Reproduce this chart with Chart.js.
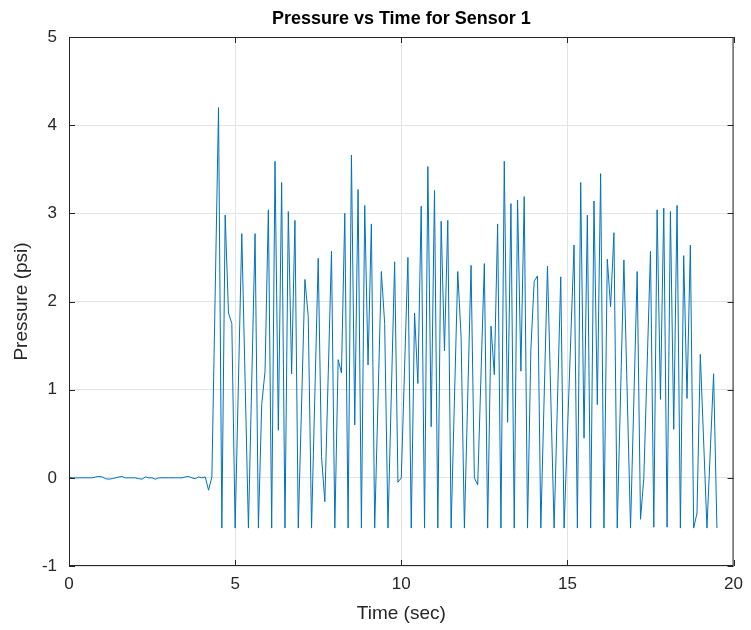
<!DOCTYPE html>
<html>
<head>
<meta charset="utf-8">
<script src="https://cdn.jsdelivr.net/npm/chart.js@4.4.1/dist/chart.umd.min.js"></script>
<style>
  html, body { margin: 0; padding: 0; background: #fff; }
  #wrap { width: 751px; height: 630px; }
</style>
</head>
<body>
<div id="wrap"><canvas id="pressureChart" width="751" height="630"></canvas></div>
<script>
// sample times (sec) and pressure readings (psi)
const timeSec = [
  0.0, 0.1, 0.2, 0.3, 0.4, 0.5, 0.6, 0.7, 0.8, 0.9,
  1.0, 1.1, 1.2, 1.3, 1.4, 1.5, 1.6, 1.7, 1.8, 1.9,
  2.0, 2.1, 2.2, 2.3, 2.4, 2.5, 2.6, 2.7, 2.8, 2.9,
  3.0, 3.1, 3.2, 3.3, 3.4, 3.5, 3.6, 3.7, 3.8, 3.9,
  4.0, 4.1, 4.2, 4.3, 4.5, 4.6, 4.7, 4.8, 4.9, 5.0,
  5.2, 5.4, 5.6, 5.7, 5.8, 5.9, 6.0, 6.1, 6.2, 6.3,
  6.4, 6.5, 6.6, 6.7, 6.8, 6.9, 7.1, 7.2, 7.3, 7.5,
  7.6, 7.7, 7.9, 8.0, 8.1, 8.2, 8.3, 8.4, 8.5, 8.6,
  8.7, 8.8, 8.9, 9.0, 9.1, 9.2, 9.4, 9.5, 9.6, 9.8,
  9.9, 10.0, 10.2, 10.3, 10.4, 10.5, 10.6, 10.7, 10.8, 10.9,
  11.0, 11.1, 11.2, 11.3, 11.4, 11.5, 11.7, 11.8, 11.9, 12.1,
  12.2, 12.3, 12.5, 12.6, 12.7, 12.8, 12.9, 13.0, 13.1, 13.2,
  13.3, 13.4, 13.5, 13.6, 13.7, 13.8, 13.9, 14.0, 14.1, 14.2,
  14.4, 14.6, 14.8, 14.9, 15.2, 15.3, 15.4, 15.5, 15.6, 15.7,
  15.8, 15.9, 16.0, 16.1, 16.2, 16.3, 16.4, 16.5, 16.7, 16.9,
  17.1, 17.2, 17.3, 17.5, 17.6, 17.7, 17.8, 17.9, 18.0, 18.1,
  18.2, 18.3, 18.4, 18.5, 18.6, 18.7, 18.8, 18.9, 19.0, 19.2,
  19.4, 19.5
];
const pressurePsi = [
  0.01, 0.0, 0.0, 0.0, 0.0, 0.0, 0.0, 0.0, 0.01, 0.015,
  0.01, -0.01, -0.015, -0.01, 0.0, 0.01, 0.015, 0.0, 0.0, 0.0,
  0.0, -0.01, -0.015, 0.01, 0.0, 0.0, -0.015, 0.0, 0.0, 0.0,
  0.0, 0.0, 0.0, 0.0, 0.0, 0.01, 0.015, 0.0, -0.01, 0.01,
  0.0, 0.01, -0.14, 0.01, 4.20, -0.57, 2.98, 1.87, 1.75, -0.57,
  2.77, -0.57, 2.77, -0.57, 0.83, 1.21, 3.04, -0.57, 3.59, 0.54,
  3.35, -0.57, 3.02, 1.18, 2.92, -0.57, 2.25, 1.83, -0.57, 2.49,
  0.24, -0.27, 2.57, -0.57, 1.34, 1.19, 3.00, -0.57, 3.66, 0.60,
  3.27, -0.57, 3.09, 1.28, 2.88, -0.57, 2.34, 1.75, -0.57, 2.45,
  -0.05, 0.0, 2.50, -0.57, 1.87, 1.07, 3.08, -0.57, 3.53, 0.58,
  3.26, -0.57, 2.91, 1.44, 2.92, -0.57, 2.34, 1.60, -0.57, 2.41,
  0.0, -0.08, 2.43, -0.57, 1.72, 1.17, 2.88, -0.57, 3.59, 0.63,
  3.11, -0.57, 3.15, 1.21, 3.19, -0.57, 1.45, 2.23, 2.29, -0.57,
  2.40, -0.57, 2.28, -0.57, 2.64, -0.57, 3.35, 0.45, 2.98, -0.57,
  3.14, 0.83, 3.45, -0.57, 2.48, 1.94, 2.78, -0.57, 2.47, -0.57,
  2.34, -0.47, 0.0, 2.57, -0.56, 3.04, 0.89, 3.06, -0.56, 3.02,
  0.55, 3.09, -0.57, 2.52, 0.90, 2.64, -0.57, -0.40, 1.40, -0.57,
  1.18, -0.57
];
const xTicks = [0, 5, 10, 15, 20];
const yTicks = [-1, 0, 1, 2, 3, 4, 5];

const fontFamily = '"Liberation Sans", Arial, Helvetica, sans-serif';
const axisColor = '#262626';

// box outline plus MATLAB style inward ticks on all four sides
const boxPlugin = {
    id: 'matlabBox',
    afterDraw(chart) {
        const ctx = chart.ctx;
        const a = chart.chartArea;
        const xs = chart.scales.x, ys = chart.scales.y;
        ctx.save();
        ctx.strokeStyle = axisColor;
        ctx.lineWidth = 1;
        ctx.strokeRect(a.left + 0.5, a.top + 0.5, a.right - a.left - 1, a.bottom - a.top - 1);
        ctx.beginPath();
        xTicks.forEach(function (v) {
            const px = Math.round(xs.getPixelForValue(v)) + 0.5;
            ctx.moveTo(px, a.bottom); ctx.lineTo(px, a.bottom - 6);
            ctx.moveTo(px, a.top); ctx.lineTo(px, a.top + 6);
        });
        yTicks.forEach(function (v) {
            const py = Math.round(ys.getPixelForValue(v)) + 0.5;
            ctx.moveTo(a.left, py); ctx.lineTo(a.left + 6, py);
            ctx.moveTo(a.right, py); ctx.lineTo(a.right - 6, py);
        });
        ctx.stroke();
        ctx.restore();
    }
};

const points = timeSec.map(function (t, i) { return { x: t, y: pressurePsi[i] }; });

new Chart(document.getElementById('pressureChart'), {
    type: 'line',
    data: {
        datasets: [{
            label: 'Sensor 1',
            data: points,
            borderColor: '#0072BD',
            borderWidth: 1,
            pointRadius: 0,
            fill: false,
            tension: 0
        }]
    },
    options: {
        responsive: false,
        animation: false,
        layout: { padding: { left: 0, right: 12, top: 0, bottom: 0 } },
        plugins: {
            legend: { display: false },
            tooltip: { enabled: false },
            title: {
                display: true,
                text: 'Pressure vs Time for Sensor 1',
                fullSize: false,
                color: '#000',
                font: { family: fontFamily, size: 18, weight: 'bold', lineHeight: 1.2 },
                padding: { top: 8, bottom: 7.4 }
            }
        },
        scales: {
            x: {
                type: 'linear',
                min: 0,
                max: 20,
                afterBuildTicks(scale) {
                    scale.ticks = xTicks.map(function (v) { return { value: v }; });
                },
                afterFit(scale) { scale.height = 64; },
                grid: { color: '#e3e3e3', drawTicks: false },
                border: { display: false },
                ticks: {
                    color: axisColor,
                    padding: 8,
                    font: { family: fontFamily, size: 17 },
                    maxRotation: 0
                },
                title: {
                    display: true,
                    text: 'Time (sec)',
                    color: axisColor,
                    font: { family: fontFamily, size: 19 },
                    padding: { top: 4, bottom: 5 }
                }
            },
            y: {
                min: -1,
                max: 5,
                afterBuildTicks(scale) {
                    scale.ticks = yTicks.map(function (v) { return { value: v }; });
                },
                afterFit(scale) { scale.width = 69; },
                grid: { color: '#e3e3e3', drawTicks: false },
                border: { display: false },
                ticks: {
                    color: axisColor,
                    padding: 12,
                    font: { family: fontFamily, size: 17 }
                },
                title: {
                    display: true,
                    text: 'Pressure (psi)',
                    color: axisColor,
                    font: { family: fontFamily, size: 19 },
                    padding: { top: 10, bottom: 4 }
                }
            }
        }
    },
    plugins: [boxPlugin]
});
</script>
</body>
</html>
